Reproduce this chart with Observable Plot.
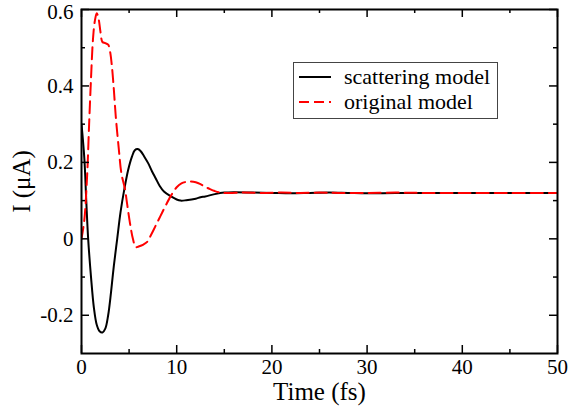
<!DOCTYPE html>
<html>
<head>
<meta charset="utf-8">
<script src="https://cdn.jsdelivr.net/npm/d3@7"></script>
<script src="https://cdn.jsdelivr.net/npm/@observablehq/plot@0.6"></script>
<style>
  html, body { margin: 0; padding: 0; background: #fff; }
  #chart svg { display: block; }
</style>
</head>
<body>
<div id="chart"></div>
<script>
// ---- data ----
const scatteringT = [0, 0.3, 0.5, 0.7, 1.0, 1.3, 1.6, 1.9, 2.2, 2.5, 2.8, 3.1, 3.4, 3.75, 4.1, 4.5, 4.9, 5.3, 5.6, 5.9, 6.2, 6.6, 7.0, 7.4, 7.8, 8.2, 8.66, 9.4, 10.0, 10.4, 11.0, 12.0, 12.5, 13.0, 14.0, 15.0, 16, 18, 20, 22, 24, 26, 28, 30, 33, 36, 40, 45, 50];
const scatteringI = [0.30, 0.21, 0.10, 0.0, -0.10, -0.18, -0.225, -0.242, -0.245, -0.235, -0.20, -0.14, -0.07, 0.0, 0.07, 0.13, 0.18, 0.215, 0.232, 0.235, 0.23, 0.215, 0.198, 0.177, 0.158, 0.139, 0.124, 0.111, 0.103, 0.100, 0.101, 0.105, 0.109, 0.111, 0.117, 0.121, 0.122, 0.121, 0.120, 0.119, 0.120, 0.121, 0.120, 0.119, 0.120, 0.120, 0.120, 0.120, 0.120];

const originalT = [0, 0.3, 0.6, 0.8, 1.0, 1.2, 1.4, 1.6, 1.8, 2.0, 2.2, 2.5, 2.8, 3.0, 3.2, 3.4, 3.6, 3.9, 4.2, 4.56, 4.8, 5.1, 5.4, 5.7, 6.0, 6.5, 6.9, 7.3, 7.8, 8.3, 8.8, 9.4, 10.0, 10.5, 11.0, 11.5, 12.0, 12.5, 13.0, 13.5, 14.0, 14.6, 15.5, 17, 19, 21, 23, 25, 27, 30, 33, 36, 40, 45, 50];
const originalI = [0.0, 0.05, 0.17, 0.30, 0.42, 0.52, 0.57, 0.59, 0.575, 0.54, 0.515, 0.512, 0.508, 0.49, 0.45, 0.39, 0.32, 0.24, 0.17, 0.131, 0.09, 0.04, 0.0, -0.022, -0.02, -0.015, -0.008, 0.01, 0.035, 0.06, 0.085, 0.113, 0.135, 0.145, 0.149, 0.150, 0.148, 0.143, 0.136, 0.130, 0.125, 0.121, 0.120, 0.121, 0.120, 0.121, 0.120, 0.121, 0.120, 0.120, 0.121, 0.120, 0.120, 0.120, 0.120];

const xMajor = [0, 10, 20, 30, 40, 50];
const xMinor = [5, 15, 25, 35, 45];
const yMajor = [-0.2, 0, 0.2, 0.4, 0.6];
const yMinor = [-0.1, 0.1, 0.3, 0.5];

const seriesNames = ["scattering model", "original model"];
const seriesColors = ["#000000", "#ff0000"];
const xTitle = "Time (fs)";
const yTitle = "I (μA)";

// ---- build tables ----
const scattering = scatteringT.map((t, i) => ({t, v: scatteringI[i]}));
const original = originalT.map((t, i) => ({t, v: originalI[i]}));

const fmtY = d => d === 0 ? "0" : String(d).replace("−", "-");

const W = 571, H = 410, mL = 81, mR = 14, mT = 9, mB = 57;
const innerW = W - mL - mR, innerH = H - mT - mB;

// inward ticks on all four sides
const ticksX = (vals, len) => [
  Plot.tickX(vals, {x: d => d, insetTop: innerH - len, stroke: "#000", strokeWidth: 1.5}),
  Plot.tickX(vals, {x: d => d, insetBottom: innerH - len, stroke: "#000", strokeWidth: 1.5})
];
const ticksY = (vals, len) => [
  Plot.tickY(vals, {y: d => d, insetRight: innerW - len, stroke: "#000", strokeWidth: 1.5}),
  Plot.tickY(vals, {y: d => d, insetLeft: innerW - len, stroke: "#000", strokeWidth: 1.5})
];

const topLabel = yMajor[yMajor.length - 1];

const chart = Plot.plot({
  width: W,
  height: H,
  marginLeft: mL,
  marginRight: mR,
  marginTop: mT,
  marginBottom: mB,
  style: {fontFamily: "'Liberation Serif', 'Times New Roman', serif", background: "#fff", color: "#000"},
  x: {domain: [0, 50]},
  y: {domain: [-0.3, 0.6]},
  marks: [
    Plot.line(scattering, {x: "t", y: "v", stroke: seriesColors[0], strokeWidth: 2, curve: "catmull-rom", clip: true}),
    Plot.line(original, {x: "t", y: "v", stroke: seriesColors[1], strokeWidth: 2, strokeDasharray: "12,6", curve: "catmull-rom", clip: true}),
    ...ticksX(xMajor, 8), ...ticksX(xMinor, 4),
    ...ticksY(yMajor, 8), ...ticksY(yMinor, 4),
    Plot.axisX({anchor: "bottom", ticks: xMajor, tickSize: 0, tickPadding: 6, fontSize: 21, label: null, tickFormat: d => String(d)}),
    Plot.axisY({anchor: "left", ticks: yMajor.filter(d => d !== topLabel), tickSize: 0, tickPadding: 8, fontSize: 21, label: null, tickFormat: fmtY}),
    Plot.axisY({anchor: "left", ticks: [topLabel], tickSize: 0, tickPadding: 8, fontSize: 21, label: null, tickFormat: fmtY, dy: 3}),
    Plot.frame({stroke: "#000", strokeWidth: 2}),
    Plot.text([xTitle], {frameAnchor: "bottom", dy: 46, fontSize: 25, textAnchor: "middle", text: d => d}),
    Plot.text([yTitle], {frameAnchor: "left", dx: -60, rotate: -90, fontSize: 25, textAnchor: "middle", text: d => d})
  ]
});

// ---- legend inside the plot ----
const svg = d3.select(chart);
const lg = svg.append("g")
  .attr("font-family", "'Liberation Serif', 'Times New Roman', serif")
  .attr("font-size", 22)
  .attr("text-anchor", "start");
lg.append("rect").attr("x", 293.5).attr("y", 62.5).attr("width", 204).attr("height", 56)
  .attr("fill", "#fff").attr("stroke", "#444").attr("stroke-width", 1);
seriesNames.forEach((name, i) => {
  const cy = 77 + i * 25;
  lg.append("line").attr("x1", 299).attr("x2", 331).attr("y1", cy).attr("y2", cy)
    .attr("stroke", seriesColors[i]).attr("stroke-width", 2)
    .attr("stroke-dasharray", i === 1 ? "10,5" : null);
  lg.append("text").attr("x", 344).attr("y", cy).attr("dy", "0.32em").attr("fill", "#000").text(name);
});

document.getElementById("chart").appendChild(chart);
</script>
</body>
</html>
